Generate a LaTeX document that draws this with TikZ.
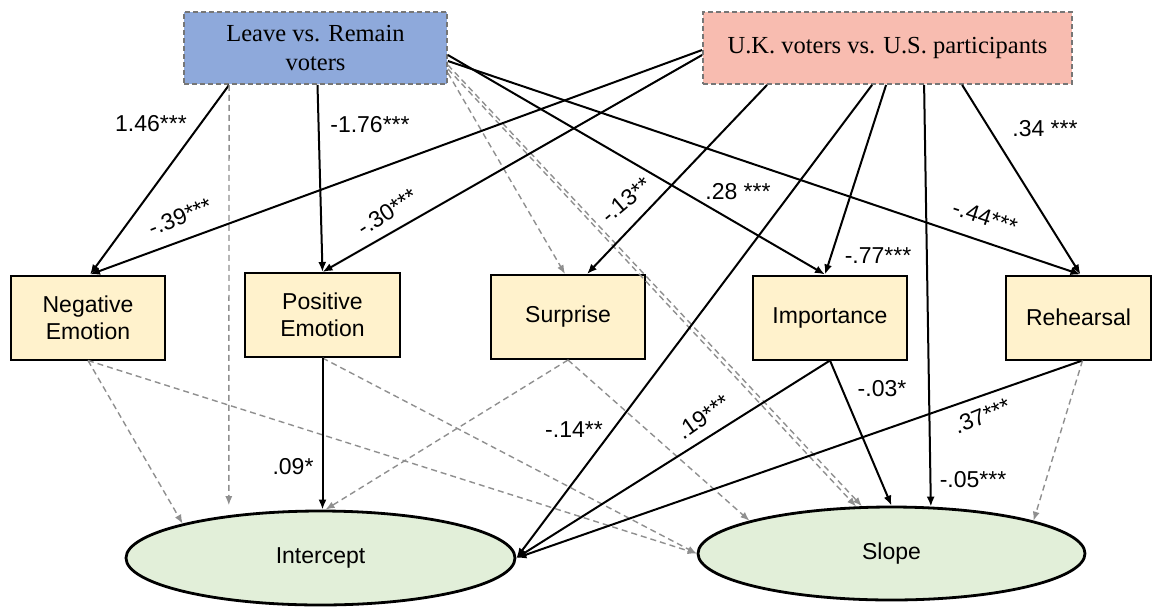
\documentclass[tikz,border=0pt]{standalone}
\usepackage{fontspec}
\setmainfont{Liberation Serif}
\newfontfamily\arialf{Liberation Sans}
\usetikzlibrary{shapes.geometric,arrows.meta,calc}
\definecolor{leavefill}{HTML}{8EA9DB}
\definecolor{ukfill}{HTML}{F8BCB0}
\definecolor{medfill}{HTML}{FFF2CC}
\definecolor{ellfill}{HTML}{E2EFD9}
\definecolor{dashgray}{HTML}{8F8F8F}
\definecolor{bordergray}{HTML}{767676}
\begin{document}
\begin{tikzpicture}[x=1pt,y=-1pt,
  group/.style={draw=bordergray, line width=1.8pt, dash pattern=on 5pt off 3pt, minimum height=72pt, inner sep=0pt, align=center, font=\fontsize{24.5}{29}\selectfont},
  med/.style={draw=black, line width=2pt, fill=medfill, minimum height=84pt, inner sep=0pt, align=center, font=\arialf\fontsize{23}{27}\selectfont},
  lat/.style={ellipse, draw=black, line width=2.8pt, fill=ellfill, inner sep=0pt, font=\arialf\fontsize{23}{27}\selectfont},
  sig/.style={-{Latex[length=10pt,width=8pt]}, line width=2pt, draw=black},
  ns/.style={-{Latex[length=9pt,width=7pt]}, line width=1.4pt, draw=dashgray, dash pattern=on 6pt off 4pt},
  lab/.style={font=\arialf\fontsize{23}{27}\selectfont, inner sep=0pt}
]
\useasboundingbox (0,0) rectangle (1153,606);

% exogenous groups
\node[group, fill=leavefill, minimum width=263pt] (leave) at (315.5,48) {Leave vs. Remain\\voters};
\node[group, fill=ukfill, minimum width=369pt] (uk) at (887.5,48) {U.K. voters vs. U.S. participants};

% mediators
\node[med, minimum width=154pt] (neg) at (88,317.5) {Negative\\Emotion};
\node[med, minimum width=155pt] (pos) at (322.5,315) {Positive\\Emotion};
\node[med, minimum width=154pt] (sur) at (568,317) {Surprise};
\node[med, minimum width=154pt] (imp) at (830,317.5) {Importance};
\node[med, minimum width=145pt] (reh) at (1078.5,317.5) {Rehearsal};

% latent growth factors
\node[lat, minimum width=389pt, minimum height=94pt] (int) at (320.5,558) {Intercept};
\node[lat, minimum width=387pt, minimum height=93pt] (slo) at (891.5,553.5) {Slope};

% Leave vs. Remain paths
\draw[sig] ([xshift=46pt]leave.south west) -- ([xshift=2pt]neg.north);
\draw[sig] ([xshift=2pt]leave.south) -- (pos.north);
\draw[sig] ([yshift=-7pt]leave.east) -- ([xshift=-5pt]imp.north);
\draw[sig] ([yshift=-13pt]leave.east) -- ([xshift=2pt]reh.north);
\draw[ns, shorten >=10pt] ([xshift=46pt]leave.south west) -- (int.155);
\draw[ns] ([yshift=-25pt]leave.east) -- ([xshift=-3pt]sur.north);
\draw[ns] ([yshift=-21pt]leave.east) -- (slo.127);
\draw[ns] ([yshift=-17pt]leave.east) -- (slo.122);

% U.K. vs U.S. paths
\draw[sig] ([yshift=-2pt]uk.west) -- ([xshift=2pt]neg.north);
\draw[sig] ([yshift=-7pt]uk.west) -- (pos.north);
\draw[sig] ([xshift=65pt]uk.south west) -- ([xshift=19pt]sur.north);
\draw[sig] ([xshift=170pt]uk.south west) -- (int.east);
\draw[sig] ([xshift=184pt]uk.south west) -- ([xshift=-5pt]imp.north);
\draw[sig] ([xshift=222pt]uk.south west) -- (slo.50);
\draw[sig] ([xshift=260pt]uk.south west) -- ([xshift=2pt]reh.north);

% mediator paths
\draw[ns] (neg.south) -- (int.166);
\draw[ns] (neg.south) -- (slo.west);
\draw[ns] (pos.south) -- (slo.west);
\draw[sig] (pos.south) -- (pos.south |- int.north);
\draw[ns] (sur.south) -- ([xshift=5pt]int.north);
\draw[ns] (sur.south) -- (slo.167);
\draw[sig] (imp.south) -- (int.east);
\draw[sig] (imp.south) -- (slo.north);
\draw[sig] ([xshift=4pt]reh.south) -- (int.east);
\draw[ns] ([xshift=4pt]reh.south) -- (slo.13);

% coefficient labels
\node[lab] (l1) at (151,124) {1.46***};
\node[lab] (l2) at (370,125) {-1.76***};
\node[lab, rotate=22] (l3) at (180,217) {-.39***};
\node[lab, rotate=33] (l4) at (387,212) {-.30***};
\node[lab, rotate=40] (l5) at (626,200) {-.13**};
\node[lab] (l6) at (738,192) {.28 ***};
\node[lab] (l7) at (1045,129) {.34 ***};
\node[lab, rotate=-18] (l8) at (985,217) {-.44***};
\node[lab] (l9) at (878,256) {-.77***};
\node[lab] (l10) at (293,467) {.09*};
\node[lab] (l11) at (574,430) {-.14**};
\node[lab, rotate=35] (l12) at (703,417) {.19***};
\node[lab] (l13) at (882,389) {-.03*};
\node[lab, rotate=22] (l14) at (982,416) {.37***};
\node[lab] (l15) at (973,480) {-.05***};
\end{tikzpicture}
\end{document}
